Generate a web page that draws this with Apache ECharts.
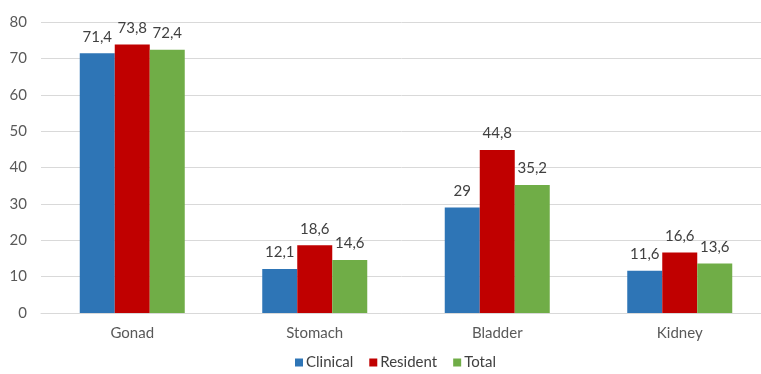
<!DOCTYPE html>
<html>
<head>
<meta charset="utf-8">
<script src="https://cdn.jsdelivr.net/npm/echarts@6/dist/echarts.min.js"></script>
<style>html,body{margin:0;padding:0;background:#fff}#chart{width:761px;height:374px}</style>
</head>
<body>
<div id="chart"></div>
<script>
const categories = ['Gonad', 'Stomach', 'Bladder', 'Kidney'];
const clinical = [71.4, 12.1, 29, 11.6];
const resident = [73.8, 18.6, 44.8, 16.6];
const total = [72.4, 14.6, 35.2, 13.6];
const seriesNames = ['Clinical', 'Resident', 'Total'];
const yTicks = [0, 10, 20, 30, 40, 50, 60, 70, 80];

const font = 'Lato, "Open Sans", sans-serif';
const colors = ['#2E75B6', '#C00000', '#70AD47'];

function barSeries(name, data, color) {
  return {
    name: name,
    type: 'bar',
    data: data,
    barWidth: 35,
    barGap: '0%',
    itemStyle: { color: color },
    label: {
      show: true,
      position: 'top',
      distance: 9,
      color: '#404040',
      fontFamily: font,
      fontSize: 15,
      formatter: p => String(p.value).replace('.', ',')
    }
  };
}

const chart = echarts.init(document.getElementById('chart'));
chart.setOption({
  animation: false,
  color: colors,
  grid: { left: 41, top: 22, width: 730, height: 291, outerBoundsMode: 'none', containLabel: false },
  legend: {
    data: seriesNames,
    left: 290,
    top: 350,
    itemWidth: 8,
    itemHeight: 8,
    itemGap: 16,
    icon: 'rect',
    textStyle: { color: '#404040', fontFamily: font, fontSize: 15, padding: [0, 0, 0, -2] }
  },
  xAxis: {
    type: 'category',
    data: categories,
    axisLine: { lineStyle: { color: '#D9D9D9' } },
    axisTick: { show: false },
    axisLabel: { color: '#595959', fontFamily: font, fontSize: 15, margin: 13 }
  },
  yAxis: {
    type: 'value',
    min: yTicks[0],
    max: yTicks[yTicks.length - 1],
    interval: 10,
    axisLine: { show: false },
    axisTick: { show: false },
    splitLine: { lineStyle: { color: '#D9D9D9' } },
    axisLabel: { color: '#595959', fontFamily: font, fontSize: 15, margin: 14 }
  },
  series: [
    barSeries(seriesNames[0], clinical, colors[0]),
    barSeries(seriesNames[1], resident, colors[1]),
    barSeries(seriesNames[2], total, colors[2])
  ]
});
</script>
</body>
</html>
